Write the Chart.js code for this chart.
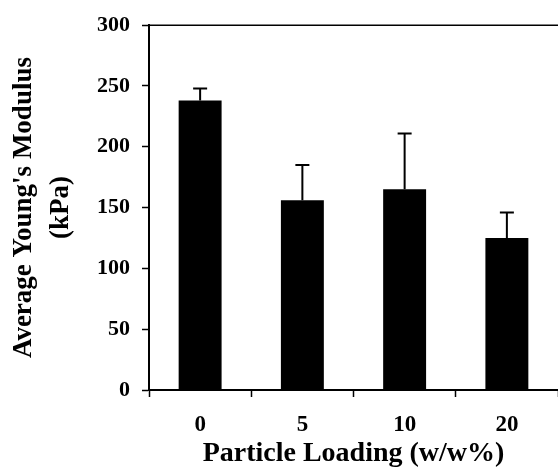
<!DOCTYPE html>
<html lang="en">
<head>
    <meta charset="UTF-8">
    <title>Average Young's Modulus</title>
    <script src="https://cdn.jsdelivr.net/npm/chart.js"></script>
    <style>
        html, body { margin: 0; padding: 0; background: #fff; }
        #wrap { width: 558px; height: 468px; }
    </style>
</head>
<body>
    <div id="wrap"><canvas id="modulusChart"></canvas></div>
    <script>
        // data
        const loadings = ['0', '5', '10', '20'];
        const modulus = [238, 156, 165, 125];
        const modulusErr = [10, 29, 46, 21];

        const serif = "'Liberation Serif', 'Times New Roman', serif";

        // upward-only error bars, placed with the chart's own scales
        const errorBars = {
            id: 'errorBars',
            afterDatasetsDraw(chart) {
                const ctx = chart.ctx;
                const y = chart.scales.y;
                const meta = chart.getDatasetMeta(0);
                ctx.save();
                ctx.strokeStyle = '#000';
                ctx.lineWidth = 2;
                meta.data.forEach((bar, i) => {
                    const top = y.getPixelForValue(modulus[i] + modulusErr[i]);
                    const base = y.getPixelForValue(modulus[i]);
                    ctx.beginPath();
                    ctx.moveTo(bar.x, base);
                    ctx.lineTo(bar.x, top);
                    ctx.moveTo(bar.x - 7, top);
                    ctx.lineTo(bar.x + 7, top);
                    ctx.stroke();
                });
                ctx.restore();
            }
        };

        // frame line along the top of the plot
        const topLine = {
            id: 'topLine',
            afterDraw(chart) {
                const a = chart.chartArea;
                const ctx = chart.ctx;
                ctx.save();
                ctx.strokeStyle = '#000';
                ctx.lineWidth = 1.5;
                ctx.beginPath();
                ctx.moveTo(a.left, a.top);
                ctx.lineTo(a.right, a.top);
                ctx.stroke();
                ctx.restore();
            }
        };

        new Chart(document.getElementById('modulusChart'), {
            type: 'bar',
            data: {
                labels: loadings,
                datasets: [{
                    data: modulus,
                    backgroundColor: '#000',
                    borderWidth: 0,
                    categoryPercentage: 1,
                    barPercentage: 0.42
                }]
            },
            options: {
                responsive: true,
                maintainAspectRatio: false,
                animation: false,
                // the plot runs slightly past the right edge of the picture
                layout: { padding: { top: 24, right: -5, left: 0, bottom: 0 } },
                plugins: { legend: { display: false }, tooltip: { enabled: false } },
                scales: {
                    x: {
                        grid: { drawOnChartArea: false, tickLength: 7, tickColor: '#000', tickWidth: 1.5 },
                        border: { color: '#000', width: 2 },
                        ticks: { color: '#000', padding: 14, font: { family: serif, size: 23, weight: 'bold' } },
                        title: {
                            display: true, text: 'Particle Loading (w/w%)', color: '#000',
                            padding: 0,
                            font: { family: serif, size: 28, weight: 'bold', lineHeight: 1 }
                        },
                        afterFit(scale) { scale.height = 78; }
                    },
                    y: {
                        min: 0, max: 300,
                        grid: { drawOnChartArea: false, tickLength: 7, tickColor: '#000', tickWidth: 1.5 },
                        border: { color: '#000', width: 2 },
                        ticks: { stepSize: 50, color: '#000', padding: 12, font: { family: serif, size: 22, weight: 'bold' } },
                        title: {
                            display: true, text: ["Average Young's Modulus", '(kPa)'], color: '#000',
                            padding: { top: 6, bottom: 0 },
                            font: { family: serif, size: 27, weight: 'bold', lineHeight: 1.37 }
                        },
                        afterFit(scale) { scale.width = 149; }
                    }
                }
            },
            plugins: [errorBars, topLine]
        });
    </script>
</body>
</html>
